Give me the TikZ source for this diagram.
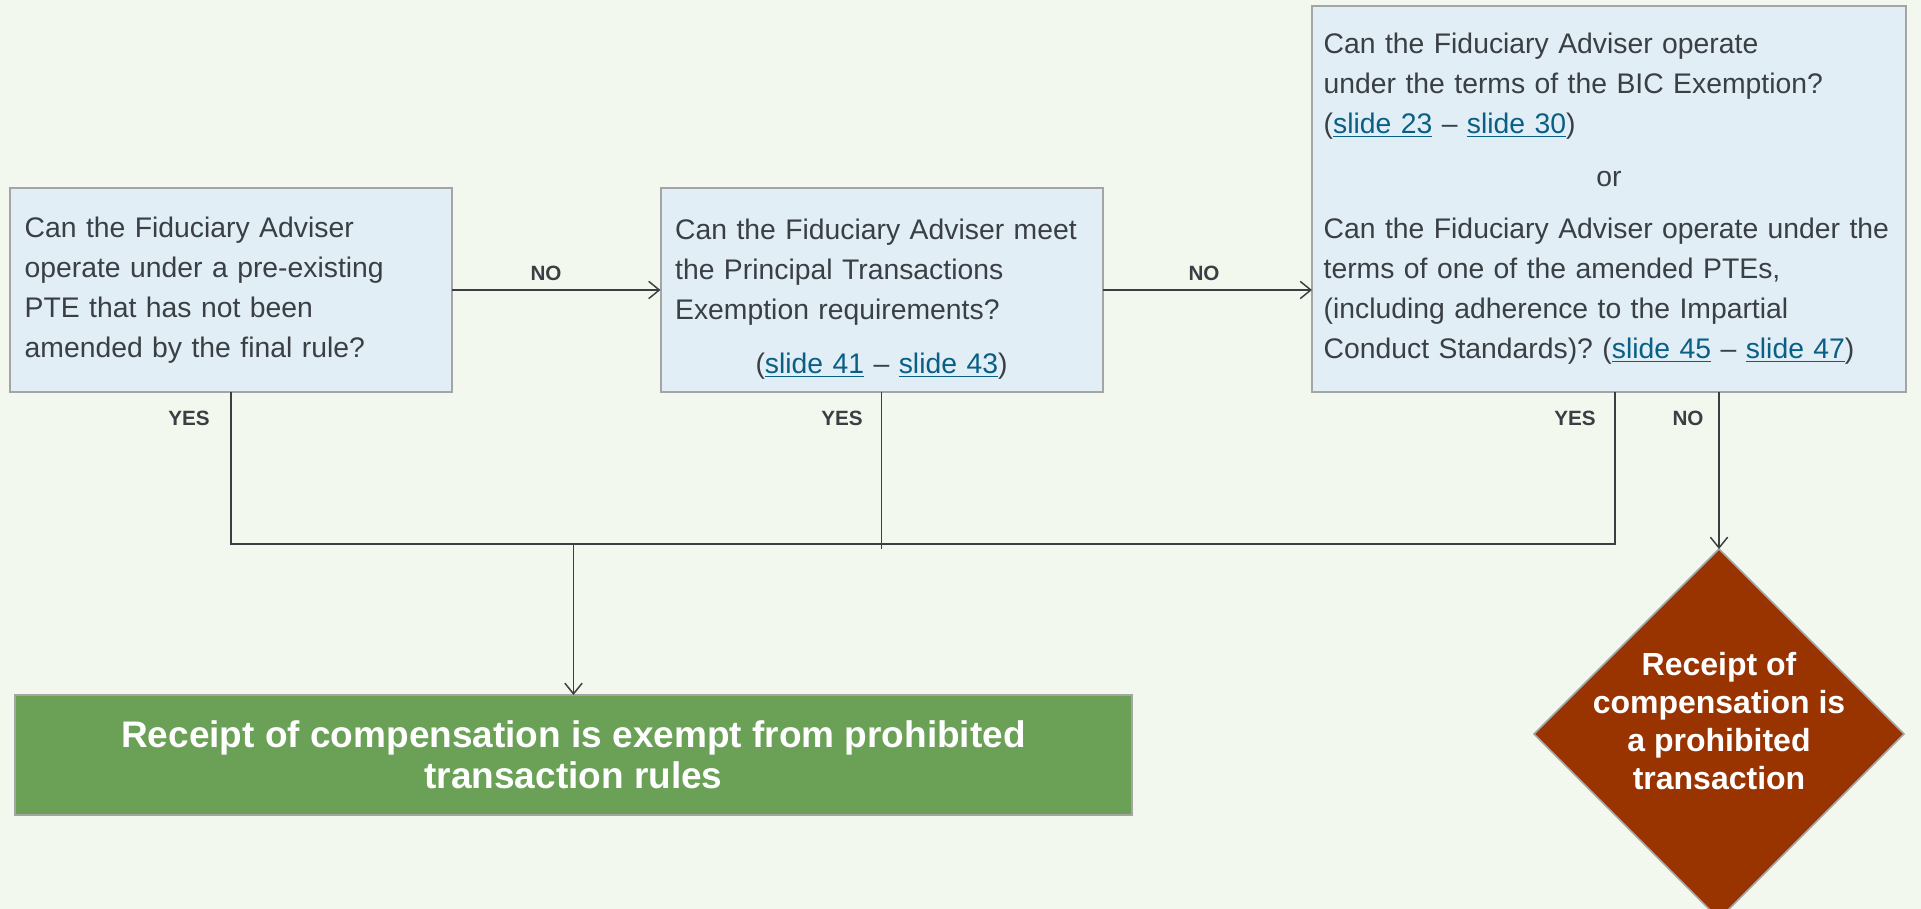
\documentclass[tikz,border=0pt]{standalone}
\usepackage{fontspec}
\setmainfont{Liberation Sans}
\usetikzlibrary{shapes.geometric,arrows.meta}
\frenchspacing

\definecolor{bgpage}{HTML}{F3F8EE}
\definecolor{boxfill}{HTML}{E1EEF6}
\definecolor{boxline}{HTML}{A5A5A5}
\definecolor{inktext}{HTML}{3A3F44}
\definecolor{linkblue}{HTML}{0A5F85}
\definecolor{okgreen}{HTML}{6AA156}
\definecolor{badred}{HTML}{993300}

\newcommand{\slidelink}[1]{\textcolor{linkblue}{\underline{#1}}}

\tikzset{
  question/.style={draw=boxline, line width=1.5pt, fill=boxfill, text=inktext, align=left,
    font=\fontsize{21.25}{30}\selectfont, inner xsep=11pt, outer sep=0pt},
  outcome/.style={draw=boxline, line width=1.5pt, fill=okgreen, text=white, align=center,
    font=\fontsize{27.75}{30.5}\selectfont\bfseries, outer sep=0pt},
  verdict/.style={diamond, aspect=1, minimum width=277.5pt, minimum height=277.5pt,
    inner sep=0pt, outer sep=0pt, fill=badred, draw=boxline, line width=1.2pt},
  answer/.style={text=inktext, font=\fontsize{15.5}{18}\selectfont\bfseries},
  flow/.style={draw=inktext, line width=1.1pt},
  flowarrow/.style={flow, -{Straight Barb[length=8pt,width=13pt]}},
}

\begin{document}
\begin{tikzpicture}[x=0.75pt,y=0.75pt,yscale=-1,xscale=1]
\useasboundingbox[fill=bgpage] (0,0) rectangle (1921,909);

% Question boxes
\node[question, minimum width=331.5pt, minimum height=153pt, text width=309.5pt] (q1) at (231,290)
  {Can the Fiduciary Adviser\\ operate under a pre-existing\\ PTE that has not been\\ amended by the final rule?};
\node[question, minimum width=331.5pt, minimum height=153pt, text width=309.5pt] (q2) at (881.5,290)
  {\rule{0pt}{29pt}Can the Fiduciary Adviser meet\\ the Principal Transactions\\ Exemption requirements?\par\vspace{11pt}
   {\centering (\slidelink{slide 41} – \slidelink{slide 43})\par}};
\node[question, minimum width=445.5pt, minimum height=289.5pt, text width=428pt, inner xsep=8.75pt] (q3) at (1609,199)
  {Can the Fiduciary Adviser operate\\ under the terms of the BIC Exemption?\\ (\slidelink{slide 23} – \slidelink{slide 30})\par\vspace{9.5pt}
   {\centering or\par}\vspace{9.5pt}
   Can the Fiduciary Adviser operate under the\\ terms of one of the amended PTEs,\\ (including adherence to the Impartial\\ Conduct Standards)? (\slidelink{slide 45} – \slidelink{slide 47})};

% Outcomes
\node[outcome, minimum width=837.75pt, minimum height=90pt] (done) at (573.5,755)
  {Receipt of compensation is exempt from prohibited\\ transaction rules};
\node[verdict, label={[text=white, align=center, font=\fontsize{24}{28.5}\selectfont\bfseries, yshift=10pt]center:{Receipt of\\ compensation is\\ a prohibited\\ transaction}}] (prohib) at (1719,734) {};

% Connectors
\coordinate (bus) at (0,544);
\coordinate (stub) at (0,549);
\coordinate (y3) at (1615,392);
\draw[flowarrow] (q1) -- (q2);
\draw[flowarrow] (q2.east) -- (q2.east -| q3.west);
\draw[flow] (q1.south) -- (q1.south |- bus) -- (y3 |- bus) -- (y3);
\draw[flow] (q2.south) -- (q2.south |- stub);
\draw[flowarrow] (done.north |- bus) -- (done.north);
\draw[flowarrow] (q3.south -| prohib.north) -- (prohib.north);

% Answer labels
\node[answer] (no12) at (546,273) {NO};
\node[answer] (no23) at (1204,273) {NO};
\node[answer] (yes1) at (189,418) {YES};
\node[answer] (yes2) at (842,418) {YES};
\node[answer] (yes3) at (1575,418) {YES};
\node[answer] (no3) at (1688,418) {NO};

\end{tikzpicture}
\end{document}
